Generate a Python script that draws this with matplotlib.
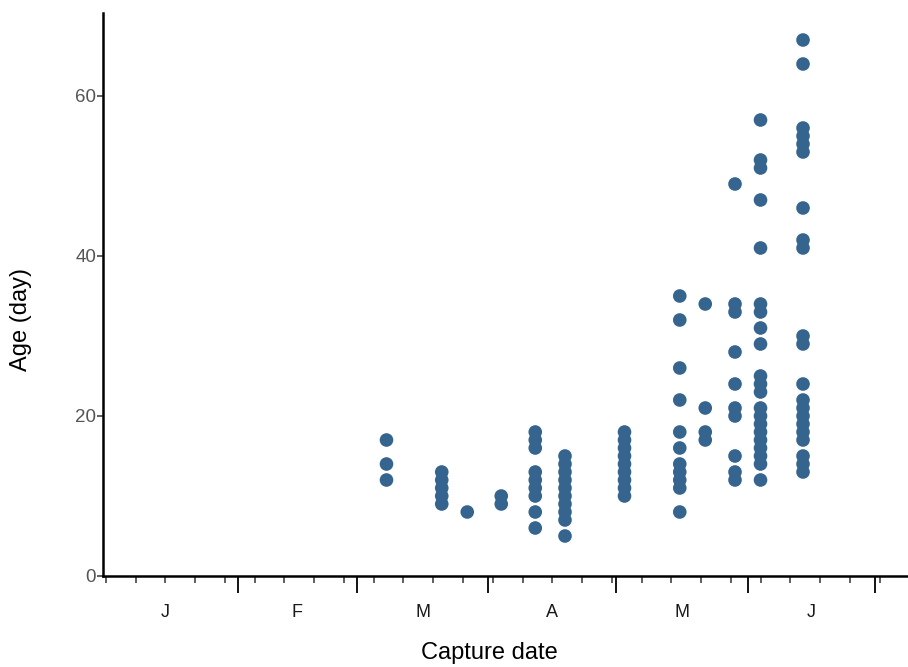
import matplotlib
matplotlib.use("Agg")
import matplotlib.pyplot as plt
import matplotlib.dates as mdates
import matplotlib.transforms as mtransforms
import numpy as np

plt.rcParams['font.family'] = ['Liberation Sans', 'DejaVu Sans']

# ---- data ----
capture_dates = ["2018-03-08", "2018-03-21", "2018-03-27", "2018-04-04",
                 "2018-04-12", "2018-04-19", "2018-05-03", "2018-05-16",
                 "2018-05-22", "2018-05-29", "2018-06-04", "2018-06-14"]
ages_d1 = [17, 14, 12]
ages_d2 = [13, 12, 11, 10, 9]
ages_d3 = [8]
ages_d4 = [10, 9]
ages_d5 = [18, 17, 16, 13, 12, 11, 10, 8, 6]
ages_d6 = [15, 14, 13, 12, 11, 10, 9, 8, 7, 5]
ages_d7 = [18, 17, 16, 15, 14, 13, 12, 11, 10]
ages_d8 = [35, 32, 26, 22, 18, 16, 14, 13, 12, 11, 8]
ages_d9 = [34, 21, 18, 17]
ages_d10 = [49, 34, 33, 28, 24, 21, 20, 15, 13, 12]
ages_d11 = [57, 52, 51, 47, 41, 34, 33, 31, 29, 25, 24, 23, 21, 20, 19, 18,
            17, 16, 15, 14, 12]
ages_d12 = [67, 64, 56, 55, 54, 53, 46, 42, 41, 30, 29, 24, 22, 21, 20, 19,
            18, 17, 15, 14, 13]
ages_by_date = [ages_d1, ages_d2, ages_d3, ages_d4, ages_d5, ages_d6,
                ages_d7, ages_d8, ages_d9, ages_d10, ages_d11, ages_d12]

month_labels = ["J", "F", "M", "A", "M", "J"]
month_starts = ["2018-01-01", "2018-02-01", "2018-03-01", "2018-04-01",
                "2018-05-01", "2018-06-01", "2018-07-01"]
y_ticks = [0, 20, 40, 60]

# ---- build long data ----
xs, ys = [], []
for d, ages in zip(capture_dates, ages_by_date):
    for a in ages:
        xs.append(np.datetime64(d))
        ys.append(a)

fig = plt.figure(figsize=(9.08, 6.67), dpi=100)
ax = fig.add_axes([103 / 908, (667 - 576) / 667, 1 - 103 / 908, (576 - 13.2) / 667])

ax.scatter(xs, ys, s=96, color="#35648E", edgecolors="none", zorder=3)

ms = [mdates.date2num(np.datetime64(m)) for m in month_starts]
ax.set_xlim(ms[0] - 0.7, ms[0] + 188.7)
ax.set_ylim(0, 70.35)

# major ticks: month starts (no labels), minor weekly (Mondays)
ax.set_xticks(ms[1:])
ax.set_xticklabels([])
ax.xaxis.set_minor_locator(mdates.WeekdayLocator(byweekday=mdates.MO))
ax.tick_params(axis='x', which='major', length=12, width=1.3, color='black', direction='out')
ax.tick_params(axis='x', which='minor', length=5, width=1.1, color='#333333', direction='out')

# month labels near mid-month
trans = mtransforms.blended_transform_factory(ax.transData, ax.transAxes)
for i, (lab, a, b) in enumerate(zip(month_labels, ms[:-1], ms[1:])):
    xc = (a + b) / 2 if i > 0 else a + 14
    ax.text(xc, -0.064, lab, transform=trans, ha='center', va='center',
            fontsize=13, color='#1a1a1a')

ax.set_yticks(y_ticks)
ax.tick_params(axis='y', length=4, width=1.1, color='#333333', labelsize=13.5,
               labelcolor='#555555', pad=1)

for s in ['top', 'right']:
    ax.spines[s].set_visible(False)
for s in ['left', 'bottom']:
    ax.spines[s].set_linewidth(1.8)
    ax.spines[s].set_color('black')

ax.set_xlabel("Capture date", fontsize=17)
ax.xaxis.set_label_coords(0.48, -0.117)
ax.set_ylabel("Age (day)", fontsize=17)
ax.yaxis.set_label_coords(-0.088, 0.455)

fig.savefig("out.png", dpi=100)
